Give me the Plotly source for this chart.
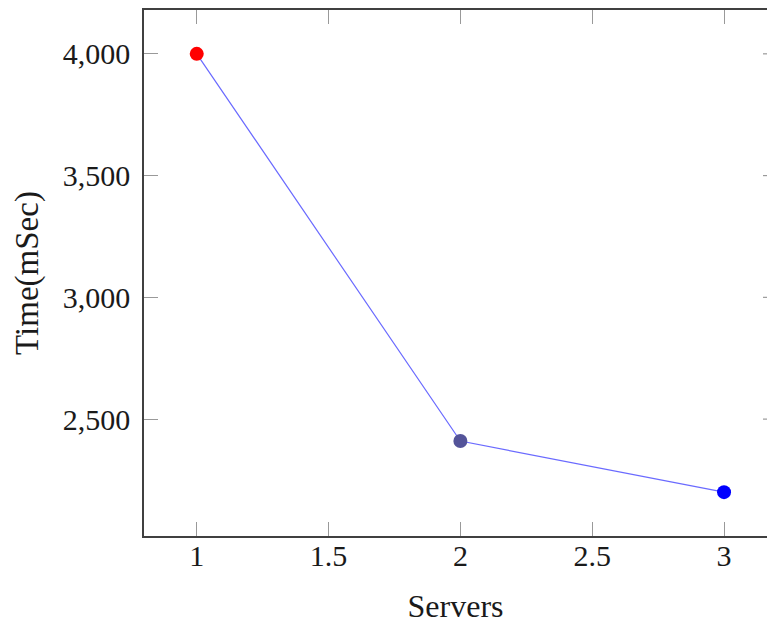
import plotly.graph_objects as go

servers = [1, 2, 3]
time_msec = [4000, 2410, 2200]
marker_colors = ["#ff0000", "#545499", "#0000ff"]
x_ticks = [1, 1.5, 2, 2.5, 3]
y_ticks = [2500, 3000, 3500, 4000]

font_family = "Liberation Serif, DejaVu Serif, serif"
text_color = "#1a1a1a"
tick_len = 14

fig = go.Figure()
fig.add_trace(go.Scatter(
    x=servers, y=time_msec,
    mode="lines+markers",
    line=dict(color="rgba(80,80,255,0.85)", width=1.2),
    marker=dict(color=marker_colors, size=14, line=dict(width=0)),
    showlegend=False,
))

axis_common = dict(
    showline=True, linecolor="#404040", linewidth=1.5,
    ticks="inside", ticklen=tick_len, tickcolor="#999999", tickwidth=1.2,
    showgrid=False, zeroline=False, automargin=False,
    tickfont=dict(family=font_family, size=30, color=text_color),
)

# the frame runs past the right edge of the canvas, so only the top is mirrored
fig.update_xaxes(
    range=[0.8, 3.163], tickvals=x_ticks, ticktext=[str(v) for v in x_ticks],
    mirror="ticks", ticklabelstandoff=-8,
    title=dict(text="Servers", font=dict(family=font_family, size=32, color=text_color), standoff=26),
    **axis_common,
)
fig.update_yaxes(
    range=[2020, 4180], tickvals=y_ticks, tickformat=",",
    mirror=False, ticklabelstandoff=6,
    title=dict(text="Time(mSec)", font=dict(family=font_family, size=33, color=text_color), standoff=14),
    **axis_common,
)

# stubs of the right-hand inside ticks that reach into the visible area
plot_w = 767 - 144
for v in y_ticks:
    fig.add_shape(
        type="line", xref="paper", yref="y",
        x0=1 - 4 / plot_w, x1=1, y0=v, y1=v,
        line=dict(color="#999999", width=1.2),
    )

fig.update_layout(
    width=767, height=624,
    margin=dict(l=144, r=0, t=10, b=88),
    plot_bgcolor="white", paper_bgcolor="white",
)

fig.write_html("out.html")
